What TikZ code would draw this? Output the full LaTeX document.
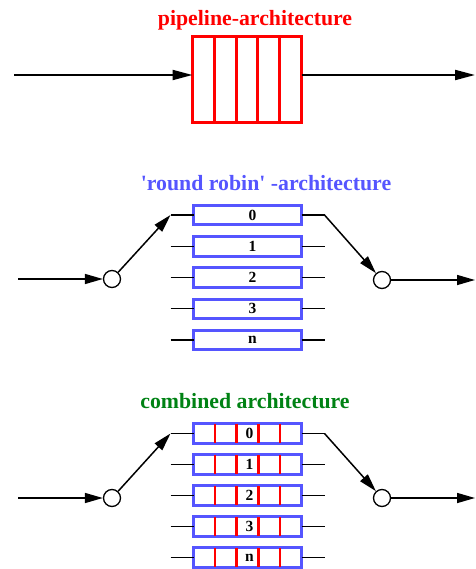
\documentclass[tikz,border=0pt]{standalone}
\usepackage{fontspec}
\setmainfont{Liberation Serif}
\usetikzlibrary{positioning,arrows.meta,calc}
\definecolor{pipered}{RGB}{255,0,0}
\definecolor{robinblue}{RGB}{85,85,255}
\definecolor{combgreen}{RGB}{0,130,20}
\tikzset{
  title/.style={anchor=base,font=\fontsize{21.8}{24}\selectfont\bfseries},
  slot/.style={draw=robinblue,line width=3pt,minimum width=108pt,minimum height=19.5pt,
    inner sep=0pt,outer sep=0pt,font=\fontsize{15.5}{17}\selectfont\bfseries},
  switch/.style={circle,draw,line width=1.3pt,minimum size=17pt,inner sep=0pt,fill=white},
  flow/.style={-{Triangle[length=18pt,width=10pt]},line width=1.5pt},
  bigflow/.style={-{Triangle[length=20pt,width=10pt]},line width=2pt},
  stub/.style={line width=1.3pt},
  divider/.style={draw=pipered,line width=2.5pt},
}

\begin{document}
\begin{tikzpicture}[x=1pt,y=-1pt]
	\useasboundingbox (0,0) rectangle (475,569);
	%% pipeline
	\node[title,text=pipered] (ptitle) at (255,26) {pipeline-architecture};
	\node[draw=pipered,line width=3pt,minimum width=109pt,minimum height=86pt,outer sep=0pt] (pipe) at (247,79.5) {};
	\foreach \k in {1,...,4}
		\draw[divider,line width=3pt] ($(pipe.north west)!\k/5!(pipe.north east)$) -- ($(pipe.south west)!\k/5!(pipe.south east)$);
	\coordinate (pin) at (14,75);
	\coordinate (pout) at (475,75);
	\draw[bigflow] (pin) -- (pin -| pipe.west);
	\draw[bigflow] (pin -| pipe.east) -- (pout);

	%% round robin
	\node[title,text=robinblue] (rtitle) at (266,190) {\textquotesingle round robin\textquotesingle{} -architecture};
	\node[slot] (r0) at (247.5,215) {\hspace*{10pt}0};
	\node[slot,below=11.75pt of r0] (r1) {\hspace*{10pt}1};
	\node[slot,below=11.75pt of r1] (r2) {\hspace*{10pt}2};
	\node[slot,below=11.75pt of r2] (r3) {\hspace*{10pt}3};
	\node[slot,below=11.75pt of r3] (rn) {\hspace*{10pt}n};
	% stubs on both sides
	\foreach \b in {r0,r1,r2,r3,rn}{
		\coordinate (\b-l) at ([xshift=-23pt]\b.west);
		\coordinate (\b-r) at ([xshift=23pt]\b.east);
		\draw[stub] (\b-l) -- (\b.west);
		\draw[stub] (\b.east) -- (\b-r);
	}
	\node[switch] (rin) at (112,279) {};
	\node[switch] (rout) at (382,280) {};
	\coordinate (rsrc) at (18,279);
	\coordinate (rsink) at (475,280);
	\draw[flow] (rsrc) -- (rin);
	\draw[flow] (rin) -- (r0-l);
	\draw[flow] (r0-r) -- (rout);
	\draw[flow] (rout) -- (rsink);

	%% combined
	\node[title,text=combgreen] (ctitle) at (245,408) {combined architecture};
	\node[slot] (c0) at (247.5,433.5) {\hspace*{4pt}0};
	\node[slot,below=11.5pt of c0] (c1) {\hspace*{4pt}1};
	\node[slot,below=11.5pt of c1] (c2) {\hspace*{4pt}2};
	\node[slot,below=11.5pt of c2] (c3) {\hspace*{4pt}3};
	\node[slot,below=11.5pt of c3] (cn) {\hspace*{4pt}n};
	% stubs and red stages
	\foreach \b in {c0,c1,c2,c3,cn}{
		\coordinate (\b-l) at ([xshift=-23pt]\b.west);
		\coordinate (\b-r) at ([xshift=23pt]\b.east);
		\draw[stub] (\b-l) -- (\b.west);
		\draw[stub] (\b.east) -- (\b-r);
		\foreach \k in {1,...,4}
			\draw[divider] ($(\b.north west)!\k/5!(\b.north east)$) -- ($(\b.south west)!\k/5!(\b.south east)$);
	}
	\node[switch] (cin) at (112,498) {};
	\node[switch] (cout) at (382,498) {};
	\coordinate (csrc) at (18,498);
	\coordinate (csink) at (475,498);
	\draw[flow] (csrc) -- (cin);
	\draw[flow] (cin) -- (c0-l);
	\draw[flow] (c0-r) -- (cout);
	\draw[flow] (cout) -- (csink);
\end{tikzpicture}
\end{document}
